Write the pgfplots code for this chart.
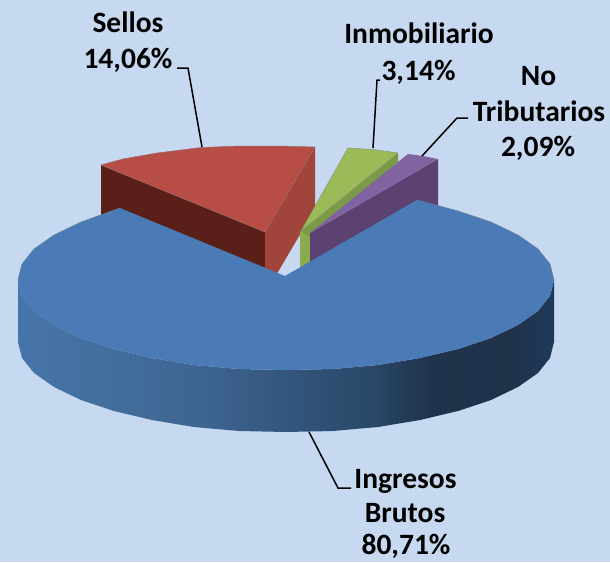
\documentclass[border=0pt]{standalone}
\usepackage{fontspec}
\setmainfont{Carlito}
\usepackage{pgfplots}
\pgfplotsset{compat=1.18}
\definecolor{bg}{HTML}{C6D9F1}
\definecolor{bluetop}{HTML}{4A7BB6}
\definecolor{redtop}{HTML}{B84D45}
\definecolor{redleft}{HTML}{5A1F18}
\definecolor{redright}{HTML}{A1443B}
\definecolor{greentop}{HTML}{9BBB59}
\definecolor{greenstrip}{HTML}{8CAA4E}
\definecolor{greendark}{HTML}{7A9A45}
\definecolor{purptop}{HTML}{8064A2}
\definecolor{purpfront}{HTML}{5C4270}
\definecolor{s0}{HTML}{4775AB}
\definecolor{s1}{HTML}{436F9E}
\definecolor{s2}{HTML}{3E6591}
\definecolor{s3}{HTML}{33567E}
\definecolor{s4}{HTML}{2A4968}
\definecolor{s5}{HTML}{20334C}
\definecolor{s6}{HTML}{20324A}
\definecolor{s7}{HTML}{1E3A5A}
\pgfdeclarehorizontalshading{blueside}{100bp}{color(0bp)=(s0); color(25bp)=(s0); color(32.6bp)=(s1); color(42bp)=(s2); color(49.9bp)=(s3); color(57.8bp)=(s4); color(63.4bp)=(s5); color(70.9bp)=(s6); color(75bp)=(s7); color(100bp)=(s7)}
\newcommand{\lab}[3]{\node[anchor=base,inner sep=0pt,font=\fontsize{29.5}{30}\selectfont\bfseries,text=black] at (axis cs:#1,#2) {#3};}
\begin{document}
\begin{tikzpicture}
\begin{axis}[
  scale only axis, width=610pt, height=562pt,
  xmin=0, xmax=610, ymin=0, ymax=562, y dir=reverse,
  hide axis, clip=true,
]
% background
\addplot[draw=none, fill=bg] coordinates {(0,0) (610,0) (610,562) (0,562)} -- cycle;
% Sellos slice
\addplot[draw=none, fill=redleft] coordinates {(101,165) (265,232) (265,294) (101,227)} -- cycle;
\addplot[draw=none, fill=redright] coordinates {(315,147) (265,232) (265,294) (315,209)} -- cycle;
\addplot[draw=gray!60!redtop, line width=0.5pt, fill=redtop] coordinates {(101,165) (123,159) (157,153) (201,147.5) (240,146) (280,146) (315,147) (265,232)} -- cycle;
% Inmobiliario slice
\addplot[draw=none, fill=greenstrip] coordinates {(300,231) (311,231) (311,290) (300,290)} -- cycle;
\addplot[draw=none, fill=greendark] coordinates {(398,153) (398,162) (311,238) (301,231)} -- cycle;
\addplot[draw=gray!60!greentop, line width=0.5pt, fill=greentop] coordinates {(301,231) (348,148) (373,149.5) (398,153)} -- cycle;
% No Tributarios slice
\addplot[draw=none, fill=purpfront] coordinates {(310,233) (438,159) (438,221) (310,295)} -- cycle;
\addplot[draw=none, fill=purptop] coordinates {(310,233) (408,154) (423,156) (438,159)} -- cycle;
% Ingresos Brutos side
\addplot[draw=none, shading=blueside] coordinates {
 (18,280) (22,296) (34,311) (54,325) (81,338) (114,349) (152,358) (194,365) (239,369) (286,370)
 (333,369) (378,365) (420,358) (458,349) (491,338) (518,325) (538,311) (550,296) (554,280)
 (554,342) (550,358) (538,373) (518,387) (491,400) (458,411) (420,420) (378,427) (333,431) (286,432)
 (239,431) (194,427) (152,420) (114,411) (81,400) (54,387) (34,373) (22,358) (18,342)} -- cycle;
% Ingresos Brutos top
\addplot[draw=none, fill=bluetop] coordinates {
 (285,276) (120,208) (81,222) (54,235) (34,249) (22,264) (18,280) (22,296) (34,311) (54,325) (81,338)
 (114,349) (152,358) (194,365) (239,369) (286,370) (333,369) (378,365) (420,358) (458,349) (491,338)
 (518,325) (538,311) (550,296) (554,280) (550,264) (538,249) (518,235) (491,222) (458,211) (417,200)} -- cycle;
\addplot[gray!60!bluetop, line width=0.5pt] coordinates {(120,208) (81,222) (54,235) (34,249) (22,264) (18,280)};
\addplot[gray!60!bluetop, line width=0.5pt] coordinates {(554,280) (550,264) (538,249) (518,235) (491,222) (458,211) (417,200)};
% leader lines
\addplot[black, line width=1.5pt] coordinates {(177,68) (188,68) (202,147)};
\addplot[black, line width=1.5pt] coordinates {(373,148) (377,80) (380,80)};
\addplot[black, line width=1.5pt] coordinates {(422,156) (457,118) (468,118)};
\addplot[black, line width=1.5pt] coordinates {(309,432) (338,488) (351,488)};
% labels
\lab{128}{32}{Sellos}
\lab{128}{68}{14,06\%}
\lab{419}{43}{Inmobiliario}
\lab{418.5}{80}{3,14\%}
\lab{538.5}{85}{No}
\lab{539}{121}{Tributarios}
\lab{538}{156}{2,09\%}
\lab{405.5}{488}{Ingresos}
\lab{405}{522}{Brutos}
\lab{406}{554}{80,71\%}
\end{axis}
\end{tikzpicture}
\end{document}
